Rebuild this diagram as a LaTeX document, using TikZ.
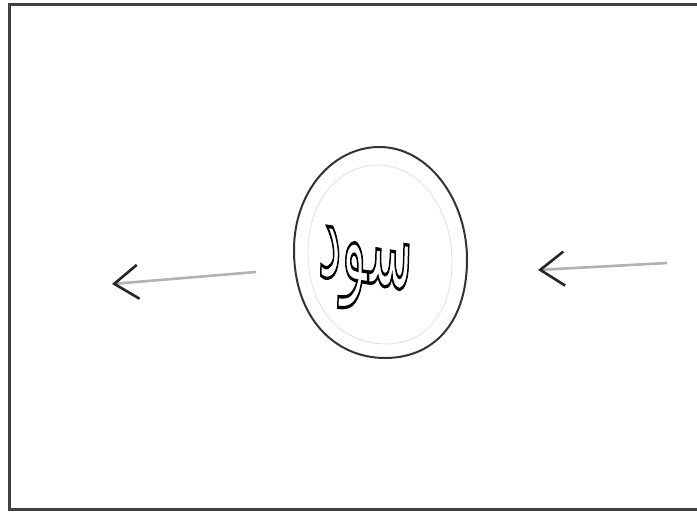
\documentclass[tikz,border=0pt]{standalone}
\usepackage{fontspec}
\usetikzlibrary{arrows.meta}
\TeXXeTstate=1
\newfontfamily\arabicfont[Script=Arabic]{DejaVu Sans}
\newcommand{\outlinetext}[1]{\special{pdf:literal direct 1 Tr 1.4 w}#1\special{pdf:literal direct 0 Tr}}
\begin{document}
\begin{tikzpicture}[x=1pt,y=-1pt,
  frame/.style={line width=3pt,draw=black!75},
  egg/.style={line width=2pt,draw=black!80},
  inner/.style={line width=0.8pt,draw=black!12},
  flow/.style={line width=2.6pt,draw=black!30,
    -{Straight Barb[length=24pt,width=34pt,line width=2.6pt,color=black!85]}},
  label/.style={font=\arabicfont\fontsize{50}{50}\selectfont,xscale=1.05,yscale=2.4,rotate=-4}]
\useasboundingbox (0,0) rectangle (697,513);
\fill[white] (0,0) rectangle (697,513);
\draw[frame] (697,5) -- (9,5) -- (9,509) -- (697,509);
\draw[egg] (378,147) .. controls (428,146) and (468,200) .. (467,262)
  .. controls (466,325) and (432,358) .. (385,358)
  .. controls (335,358) and (294,318) .. (294,250)
  .. controls (294,192) and (332,148) .. (378,147) -- cycle;
\draw[inner] (378,165) .. controls (420,165) and (453,210) .. (452,264)
  .. controls (451,315) and (424,344) .. (386,344)
  .. controls (344,344) and (308,312) .. (308,252)
  .. controls (308,202) and (338,165) .. (378,165) -- cycle;
\node[label] (word) at (365,272) {\outlinetext{\beginR سود\endR}};
\coordinate (rin) at (667,263);
\coordinate (rout) at (538,270);
\coordinate (lin) at (256,272);
\coordinate (lout) at (112,284);
\draw[flow] (rin) -- (rout);
\draw[flow] (lin) -- (lout);
\end{tikzpicture}
\end{document}
